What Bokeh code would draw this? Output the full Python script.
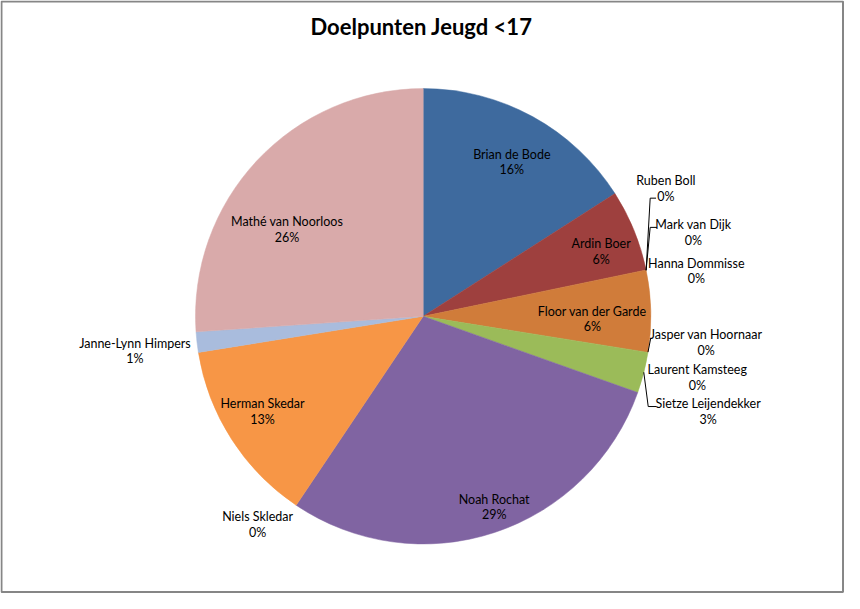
import numpy as np
from bokeh.plotting import figure
from bokeh.models import Range1d, ColumnDataSource
from bokeh.core.properties import value
from bokeh.embed import file_html
from bokeh.resources import INLINE

# ---------------- data ----------------
title_text = "Doelpunten Jeugd <17"
players = ["Brian de Bode", "Ardin Boer", "Ruben Boll", "Mark van Dijk",
           "Hanna Dommisse", "Floor van der Garde", "Jasper van Hoornaar",
           "Laurent Kamsteeg", "Sietze Leijendekker", "Noah Rochat",
           "Niels Skledar", "Herman Skedar", "Janne-Lynn Himpers",
           "Mathé van Noorloos"]
goals = [11, 4, 0, 0, 0, 4, 0, 0, 2, 20, 0, 9, 1, 18]
colors = ["#3E6A9E", "#9E403E", "#4BACC6", "#8064A2", "#9BBB59",
          "#D07C3A", "#2C4D75", "#772C2A", "#9BBB59", "#8064A2",
          "#4BACC6", "#F79646", "#A9BCDD", "#D9AAAA"]

# ---------------- layout (reference pixel coordinates) ----------------
W, H = 844, 593
REF_W, REF_H = 860, 609
CX, CY, R = 430.7, 324.3, 232.0
# name-line centre of each data label
label_pos = [(521, 158), (612, 250), (678, 185), (706, 230), (709, 270),
             (603, 319), (719, 343), (710, 379), (721, 414), (503, 512),
             (262, 530), (267, 414), (137, 352), (292, 227)]
LINE_GAP = 16
FONT = "Lato"


def fy(py):
    return REF_H - py


p = figure(width=W, height=H, output_backend="svg", toolbar_location=None,
           x_range=Range1d(0, REF_W), y_range=Range1d(0, REF_H),
           x_axis_type=None, y_axis_type=None, min_border=0,
           background_fill_color="white", border_fill_color="white")
p.grid.visible = False
p.outline_line_color = None

# border
p.quad(left=[1], right=[REF_W - 1.5], bottom=[fy(REF_H - 1.5)], top=[fy(1)],
       fill_color=None, line_color="#868686", line_width=2)

# wedges
vals = np.array(goals, dtype=float)
total = vals.sum()
cum = np.cumsum(vals)
prev = cum - vals
start = np.pi / 2 - 2 * np.pi * prev / total
end = np.pi / 2 - 2 * np.pi * cum / total
mask = vals > 0
src = ColumnDataSource(dict(start=start[mask], end=end[mask],
                            color=[c for c, m in zip(colors, mask) if m]))
p.wedge(x=CX, y=fy(CY), radius=R, start_angle="start", end_angle="end",
        direction="clock", fill_color="color", line_color="color",
        line_width=0.5, source=src)


def edge(theta):
    # theta: bokeh angle (radians, anticlockwise from +x)
    return CX + R * np.cos(theta), CY - R * np.sin(theta)


# leader lines
idx = players.index
lead = []
ex, ey = edge(start[idx("Ruben Boll")])
lead.append(([ex, 662, 668], [ey, 203, 203]))
ex, ey = edge(start[idx("Mark van Dijk")])
lead.append(([ex, 662, 669], [ey, 233, 233]))
ex, ey = edge(start[idx("Jasper van Hoornaar")])
lead.append(([ex, 662.5], [ey, 347]))
i = idx("Sietze Leijendekker")
ex, ey = edge((start[i] + end[i]) / 2)
lead.append(([ex, 660, 668], [ey, 417, 417]))
for xs, ys in lead:
    p.line(x=xs, y=[fy(v) for v in ys], line_color="black", line_width=1)

# labels
pct = [f"{int(round(100 * v / total))}%" for v in vals]
lx = [q[0] for q in label_pos]
ly1 = [fy(q[1]) for q in label_pos]
ly2 = [fy(q[1] + LINE_GAP) for q in label_pos]
p.text(x=lx, y=ly1, text=players, text_font=value(FONT), text_font_size="12.5px",
       text_align="center", text_baseline="middle", text_color="black")
p.text(x=lx, y=ly2, text=pct, text_font=value(FONT), text_font_size="12.5px",
       text_align="center", text_baseline="middle", text_color="black")

# title
p.text(x=[429], y=[fy(27)], text=[title_text], text_font=value(FONT),
       text_font_size="22px", text_font_style="bold", text_align="center",
       text_baseline="middle", text_color="black")

open("out.html", "w").write(file_html(p, INLINE))
